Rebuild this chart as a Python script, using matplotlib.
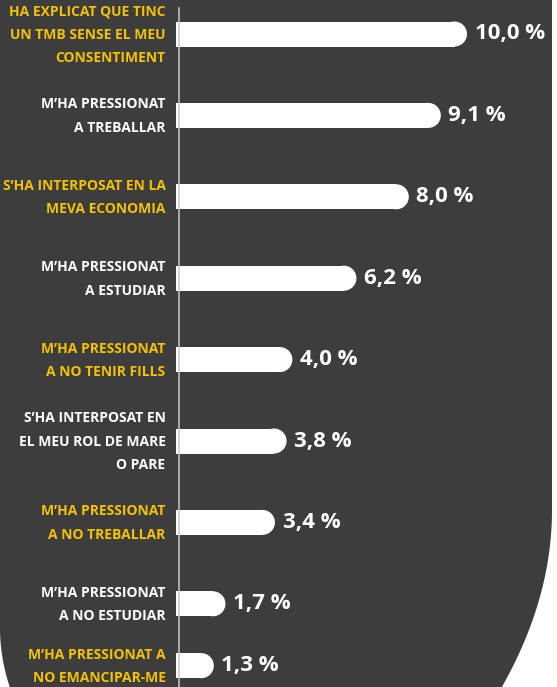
import matplotlib.pyplot as plt
import matplotlib.patches as mpatches
import numpy as np

labels = [
    "HA EXPLICAT QUE TINC\nUN TMB SENSE EL MEU\nCONSENTIMENT",
    "M’HA PRESSIONAT\nA TREBALLAR",
    "S’HA INTERPOSAT EN LA\nMEVA ECONOMIA",
    "M’HA PRESSIONAT\nA ESTUDIAR",
    "M’HA PRESSIONAT\nA NO TENIR FILLS",
    "S’HA INTERPOSAT EN\nEL MEU ROL DE MARE\nO PARE",
    "M’HA PRESSIONAT\nA NO TREBALLAR",
    "M’HA PRESSIONAT\nA NO ESTUDIAR",
    "M’HA PRESSIONAT A\nNO EMANCIPAR-ME",
]
values = [10.0, 9.1, 8.0, 6.2, 4.0, 3.8, 3.4, 1.7, 1.3]

DARK = "#3d3d3d"
YELLOW = "#f5c200"
W, H, DPI = 557, 687, 100

fig = plt.figure(figsize=(W / DPI, H / DPI), dpi=DPI, facecolor="white")

# dark background shape with rounded bottom corners (pixel coords, y down)
yr = np.linspace(510, 700, 60)
xr = 552 - 0.0016 * (yr - 510) ** 2
yl = np.linspace(700, 628, 60)
xl = 0.0028 * (yl - 628) ** 2
px = np.concatenate([[0, 552], xr, xl, [0]])
py = np.concatenate([[-5, -5], yr, yl, [-5]])
shape = mpatches.Polygon(np.column_stack([px / W, 1 - py / H]), closed=True,
                         transform=fig.transFigure, facecolor=DARK,
                         edgecolor="none", zorder=-10)
fig.patches.append(shape)

ax = fig.add_axes([0, 0, 1, 1])
ax.set_zorder(5)
ax.set_facecolor("none")
ax.axis("off")

px_per_unit = 29.1
x0 = 176
ax.set_xlim(-x0 / px_per_unit, (W - x0) / px_per_unit)

step = 81.4
ypos = np.arange(len(values), dtype=float)
ypos[-1] = ypos[-2] + 0.76
ax.set_ylim((H - 34) / step, -34 / step)

bar_px = 25
r = bar_px / 2 / px_per_unit
bar_h = bar_px / step
vals = np.array(values)
ax.barh(ypos, vals - r, height=bar_h, color="white", zorder=2)
ax.scatter(vals - r, ypos, s=(bar_px * 72 / DPI) ** 2, color="white",
           edgecolors="none", zorder=2)

ax.plot([2.5 / px_per_unit] * 2, [8 / step - 34 / step, (H + 5) / step],
        color="#c8c8c8", lw=1.1, zorder=3)

for i, (lab, v) in enumerate(zip(labels, values)):
    col = YELLOW if i % 2 == 0 else "white"
    ax.annotate(lab, (0, ypos[i]), xytext=(-7.5, -0.5), textcoords="offset points",
                ha="right", va="center", ma="right", color=col,
                fontsize=10, fontweight="bold", family="Open Sans",
                linespacing=1.85)
    ax.annotate(f"{v:.1f} %".replace(".", ","), (v, ypos[i]), xytext=(5.5, 0),
                textcoords="offset points", ha="left", va="center",
                color="white", fontsize=16, fontweight="bold",
                family="Open Sans")

fig.savefig("out.png", dpi=DPI, facecolor="white")
